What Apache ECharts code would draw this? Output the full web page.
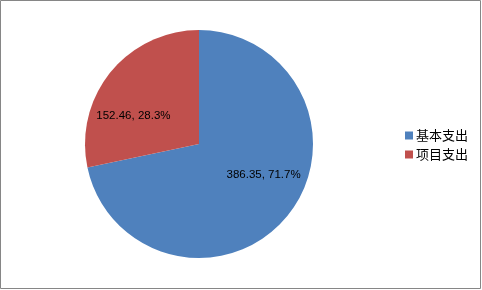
<!DOCTYPE html>
<html><head><meta charset="utf-8">
<script src="https://cdn.jsdelivr.net/npm/echarts@6/dist/echarts.min.js"></script>
<style>html,body{margin:0;padding:0;background:#fff}#c{width:482px;height:290px}</style>
</head><body><div id="c"></div>
<script>
const categories = ['基本支出', '项目支出'];
const values = [386.35, 152.46];
const percents = ['71.7%', '28.3%'];

const colors = ['#4F81BD', '#C0504D'];
const labelOffsets = [[18, -7], [-19, 10]];

const chart = echarts.init(document.getElementById('c'));
chart.setOption({
  animation: false,
  graphic: [{
    type: 'rect', silent: true,
    shape: { x: 0.5, y: 0.5, width: 480, height: 288 },
    style: { fill: 'none', stroke: '#868686', lineWidth: 1 }
  }],
  legend: {
    orient: 'vertical', left: 400, top: 124,
    itemWidth: 8, itemHeight: 8, itemGap: 6,
    icon: 'rect',
    textStyle: { fontSize: 13, color: '#000', fontFamily: 'Noto Sans CJK SC', lineHeight: 13, padding: [0, 0, 0, -2] },
    data: categories
  },
  series: [{
    type: 'pie',
    center: [199, 144], radius: 114,
    startAngle: 90, clockwise: true,
    itemStyle: { borderWidth: 0 },
    label: {
      show: true, position: 'inside',
      fontSize: 11.5, color: '#000', fontFamily: 'Liberation Sans',
      formatter: p => values[p.dataIndex] + ', ' + percents[p.dataIndex]
    },
    labelLine: { show: false },
    emphasis: { disabled: true },
    data: categories.map((n, i) => ({
      name: n, value: values[i],
      itemStyle: { color: colors[i] },
      label: { offset: labelOffsets[i] }
    }))
  }]
});
</script></body></html>
